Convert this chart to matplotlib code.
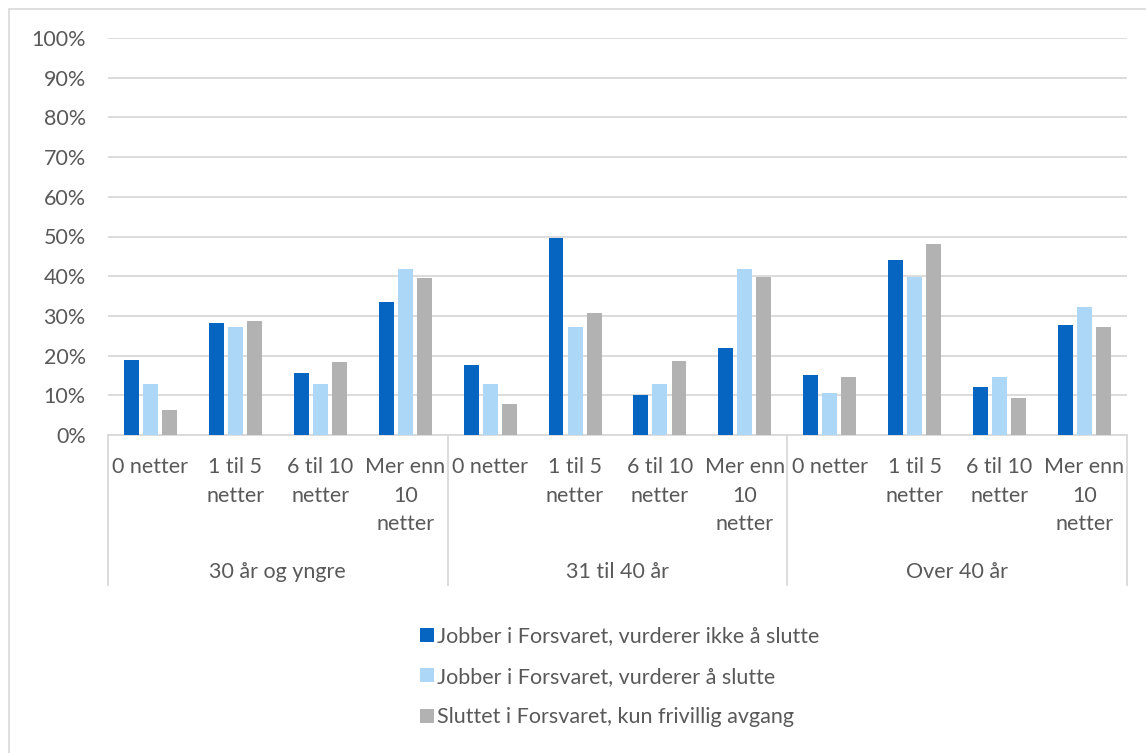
import matplotlib.pyplot as plt
import numpy as np
from matplotlib.patches import Rectangle
from matplotlib.lines import Line2D

plt.rcParams['font.family'] = ['Lato', 'DejaVu Sans']

groups = ['30 år og yngre', '31 til 40 år', 'Over 40 år']
cats = ['0 netter', '1 til 5\nnetter', '6 til 10\nnetter', 'Mer enn\n10\nnetter']
series = ['Jobber i Forsvaret, vurderer ikke å slutte',
          'Jobber i Forsvaret, vurderer å slutte',
          'Sluttet i Forsvaret, kun frivillig avgang']

# percent values, per group: [0 netter, 1-5, 6-10, >10]
ikke_slutte = [19.0, 28.3, 15.6, 33.6,
               17.7, 49.5, 10.0, 21.9,
               15.2, 44.1, 12.0, 27.8]
vurderer_slutte = [12.9, 27.3, 12.9, 41.7,
                   12.9, 27.3, 12.9, 41.7,
                   10.6, 39.7, 14.5, 32.2]
sluttet = [6.2, 28.7, 18.3, 39.6,
           7.7, 30.7, 18.7, 39.8,
           14.5, 48.2, 9.2, 27.1]

colors = ['#0565C0', '#ADD7F6', '#B2B2B2']
txt = '#595959'
grid_c = '#D9D9D9'
fs = 15.5

W, H = 1146, 753
fig = plt.figure(figsize=(W / 100, H / 100), dpi=100)

# outer chart border
fig.patches.append(Rectangle((8.5 / W, -0.1), 1.2, 1.1 - 9.5 / H, transform=fig.transFigure,
                             fill=False, edgecolor=grid_c, linewidth=1.2))

left, right, top, bot = 108, 1127, 38, 435
ax = fig.add_axes([left / W, 1 - bot / H, (right - left) / W, (bot - top) / H])

n = len(ikke_slutte)
x = np.arange(n)
bw = 0.176
step = 0.224
for i, vals in enumerate([ikke_slutte, vurderer_slutte, sluttet]):
    ax.bar(x + (i - 1) * step, np.array(vals) / 100, width=bw, color=colors[i],
           label=series[i], zorder=3)

ax.set_xlim(-0.5, n - 0.5)
ax.set_ylim(0, 1)
ax.set_yticks(np.arange(0, 1.01, 0.1))
ax.set_yticklabels([f'{int(round(v * 100))}%' for v in np.arange(0, 1.01, 0.1)],
                   fontsize=fs, color=txt)
ax.tick_params(axis='y', length=0, pad=16)
ax.set_xticks([])
ax.yaxis.grid(True, color=grid_c, linewidth=1.3, zorder=0)
for s in ['left', 'right', 'top']:
    ax.spines[s].set_visible(False)
ax.spines['bottom'].set_color(grid_c)
ax.spines['bottom'].set_linewidth(1.3)

# multi-level category labels
trans = ax.get_xaxis_transform()
px = 1 / (bot - top)
for j in range(n):
    ax.text(j, -22 * px, cats[j % 4], transform=trans, ha='center', va='top',
            fontsize=fs, color=txt, linespacing=1.54)
for g, name in enumerate(groups):
    ax.text(g * 4 + 1.5, -137 * px, name, transform=trans, ha='center', va='center',
            fontsize=fs, color=txt)
for b in range(len(groups) + 1):
    ax.add_line(Line2D([b * 4 - 0.5, b * 4 - 0.5], [0, -150 * px], transform=trans,
                       color=grid_c, linewidth=1.3, clip_on=False))

leg = fig.legend(loc='upper left', bbox_to_anchor=(401 / W, 1 - 607 / H), frameon=False,
                 fontsize=fs, labelspacing=0.95, handlelength=0.62, handleheight=0.62,
                 handletextpad=0.15)
for t in leg.get_texts():
    t.set_color(txt)

fig.savefig('out.png', dpi=100)
